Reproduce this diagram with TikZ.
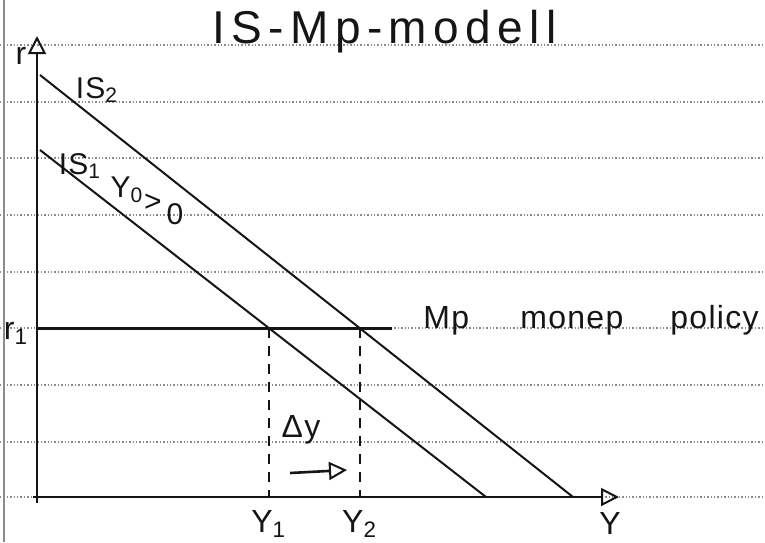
\documentclass[tikz,border=0pt]{standalone}
\usepackage{fontspec}
\usepackage{tikz}
\usetikzlibrary{arrows.meta}
\newfontfamily\handfont[LetterSpace=4]{Liberation Sans}
\newfontfamily\titlefont[LetterSpace=14]{Liberation Sans}
\definecolor{ISInk}{HTML}{151515}
\definecolor{ISRule}{HTML}{8C8C8C}

\begin{document}
\begin{tikzpicture}[x=0.5pt,y=-0.5pt,
  ink/.style={ISInk,line width=1pt},
  rule/.style={ISRule,densely dotted,line width=0.7pt},
  hand/.style={ISInk,inner sep=0pt,font=\handfont\fontsize{16}{18}\selectfont},
  small/.style={hand,font=\handfont\fontsize{15}{17}\selectfont},
  opentip/.style={-{Triangle[open,length=9pt,width=9pt,line width=1pt]}}]
\path[use as bounding box] (0,0) rectangle (765,542);
% ruled paper
\foreach \ry in {45,102,158,215,272,328,385,442,497}
  \draw[rule] (0,\ry) -- (765,\ry);
\draw[ISRule,line width=0.7pt] (4,0) -- (4,542);
% title
\node[hand,anchor=base west,font=\titlefont\fontsize{23}{26}\selectfont] (title) at (212,43) {IS-Mp-modell};
% axes
\coordinate (O) at (37,497);
\coordinate (rtop) at (37,36);
\coordinate (yend) at (619,497);
\draw[ink,opentip] (37,503) -- (rtop);
\draw[ink,line width=1.3pt,opentip] (33,497) -- (yend);
\node[hand] (rlab) at (21,56) {r};
\node[hand,anchor=north] (ylab) at (610,512) {Y};
% IS curves
\coordinate (IStwoA) at (40,75);
\coordinate (IStwoB) at (573,497);
\coordinate (ISoneA) at (40,150);
\coordinate (ISoneB) at (486,497);
\draw[ink] (IStwoA) -- (IStwoB);
\draw[ink] (ISoneA) -- (ISoneB);
\node[small] (istwo) at (97,90) {IS\textsubscript{2}};
\node[small] (isone) at (80,166) {IS\textsubscript{1}};
% slanted note, written in steps
\node[small] (shiftY) at (127,190) {Y\textsubscript{0}};
\node[small] (shiftgt) at (153,203) {>};
\node[small] (shiftnil) at (175,214) {0};
% MP line
\coordinate (MPa) at (37,328);
\coordinate (MPb) at (392,328);
\draw[ISInk,line width=1.5pt] (MPa) -- (MPb);
\node[hand] (rone) at (16,333) {r\textsubscript{1}};
\node[hand,anchor=base west] (mp) at (423,328) {Mp};
\node[hand,anchor=base west] (monep) at (520,328) {monep};
\node[hand,anchor=base west] (policy) at (670,328) {policy};
% equilibria
\coordinate (EOne) at (intersection of ISoneA--ISoneB and MPa--MPb);
\coordinate (ETwo) at (intersection of IStwoA--IStwoB and MPa--MPb);
\draw[ink,dash pattern=on 5pt off 4pt] (EOne) -- (EOne |- O);
\draw[ink,dash pattern=on 5pt off 4pt] (ETwo) -- (ETwo |- O);
\node[hand,anchor=north] (yone) at (EOne |- 0,510) {Y\textsubscript{1}};
\node[hand,anchor=north] (ytwo) at (ETwo |- 0,510) {Y\textsubscript{2}};
% change in output
\node[hand] (dy) at (301,430) {Δy};
\coordinate (dyA) at (290,473);
\coordinate (dyB) at (347,470);
\draw[ink,line width=1.3pt,opentip] (dyA) -- (dyB);
\end{tikzpicture}
\end{document}
